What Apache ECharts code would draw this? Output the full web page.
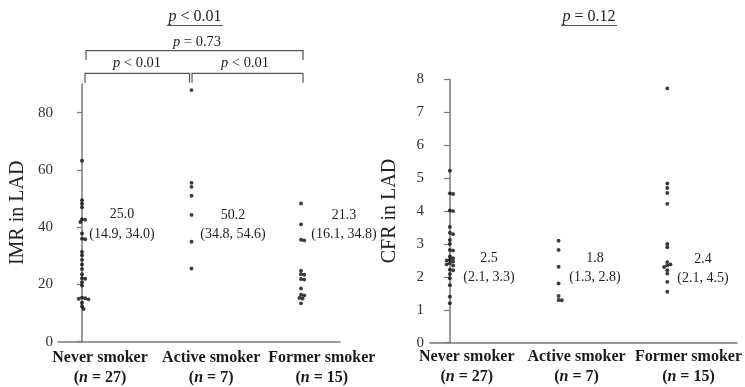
<!DOCTYPE html>
<html><head><meta charset="utf-8">
<script src="https://cdn.jsdelivr.net/npm/echarts@6/dist/echarts.min.js"></script>
<style>html,body{margin:0;padding:0;background:#fff}#c{width:745px;height:387px}</style>
</head><body><div id="c"></div>
<script>
// ---------- data ----------
const categories = ['Never smoker', 'Active smoker', 'Former smoker'];
const groupN = [27, 7, 15];

const imrNever  = [63.2, 49.4, 48.2, 47.0, 42.8, 42.6, 41.8, 37.8, 36.0, 35.8, 31.4, 30.2, 28.6, 27.0,
                   25.4, 23.6, 22.2, 22.0, 20.8, 19.6, 15.4, 15.2, 15.0, 14.8, 13.6, 12.4, 11.4];
const imrActive = [87.9, 55.5, 54.1, 51.0, 44.3, 34.9, 25.6];
const imrFormer = [48.3, 41.0, 35.6, 35.4, 24.8, 23.6, 23.4, 21.9, 21.7, 18.6, 16.4, 16.2, 15.3, 15.1, 13.4];

const cfrNever  = [5.23, 4.54, 4.52, 4.02, 4.00, 3.52, 3.34, 3.30, 3.12, 3.00, 2.82, 2.80, 2.62, 2.57,
                   2.52, 2.50, 2.47, 2.42, 2.38, 2.35, 2.22, 2.20, 2.09, 1.96, 1.75, 1.40, 1.20];
const cfrActive = [3.10, 2.82, 2.31, 1.80, 1.42, 1.30, 1.29];
const cfrFormer = [7.73, 4.84, 4.70, 4.55, 4.22, 3.00, 2.90, 2.45, 2.38, 2.35, 2.30, 2.20, 2.10, 1.85, 1.55];

const imrMedianText = ['25.0', '50.2', '21.3'];
const imrIqrText    = ['(14.9, 34.0)', '(34.8, 54.6)', '(16.1, 34.8)'];
const cfrMedianText = ['2.5', '1.8', '2.4'];
const cfrIqrText    = ['(2.1, 3.3)', '(1.3, 2.8)', '(2.1, 4.5)'];

const imrTicks = [0, 20, 40, 60, 80];
const cfrTicks = [0, 1, 2, 3, 4, 5, 6, 7, 8];

const overallP = ['p < 0.01', 'p = 0.12'];
const pairP = { neverFormer: 'p = 0.73', neverActive: 'p < 0.01', activeFormer: 'p < 0.01' };

// ---------- chart ----------
const SERIF = '"Liberation Serif", "DejaVu Serif", serif';
const axisGrey = '#7a7a7a';
const dotColor = '#0c0c0c';

const imrGroups = [imrNever, imrActive, imrFormer];
const cfrGroups = [cfrNever, cfrActive, cfrFormer];

function catLabel(v) {
  const i = Math.round(v);
  return '{b|' + categories[i] + '}\n{b|(}{i|n}{b| = ' + groupN[i] + ')}';
}
const catRich = {
  b: { fontFamily: SERIF, fontWeight: 'bold', fontSize: 16, color: '#1a1a1a', lineHeight: 20 },
  i: { fontFamily: SERIF, fontWeight: 'bold', fontStyle: 'italic', fontSize: 16, color: '#1a1a1a', lineHeight: 20 }
};

function xAxisDef(gridIndex, min, max, labelPos, margin) {
  return {
    type: 'value', gridIndex, min, max,
    axisLine: { lineStyle: { color: axisGrey, width: 1.5 } },
    axisTick: { show: false },
    splitLine: { show: false },
    axisLabel: { customValues: labelPos, formatter: catLabel, rich: catRich, margin, interval: 0 }
  };
}
function yAxisDef(gridIndex, max, ticks, name, margin, tickLen) {
  return {
    type: 'value', gridIndex, min: 0, max,
    name, nameLocation: 'middle', nameGap: 30,
    nameTextStyle: { fontFamily: SERIF, fontSize: 20, color: '#222' },
    axisLine: { show: true, lineStyle: { color: axisGrey, width: 1.5 } },
    axisTick: { show: true, customValues: ticks, length: tickLen, lineStyle: { color: axisGrey, width: 1.2 } },
    axisLabel: { customValues: ticks, fontFamily: SERIF, fontSize: 15, color: '#333', margin },
    splitLine: { show: false }
  };
}

function seriesFor(groups, gi, offsets) {
  return groups.map((vals, c) => ({
    type: 'scatter', xAxisIndex: gi, yAxisIndex: gi,
    symbol: 'circle', symbolSize: 3.9,
    itemStyle: { color: dotColor },
    silent: true,
    data: vals.map((v, k) => [c + (offsets ? offsets[c][k] : 0), v])
  }));
}

const chart = echarts.init(document.getElementById('c'), null, { renderer: 'canvas' });

function buildOption(imrOff, cfrOff) {
  return {
    animation: false,
    backgroundColor: '#fff',
    grid: [
      { left: 58, top: 84.1, width: 282, height: 257.6 },
      { left: 430, top: 79.5, width: 308, height: 263.2 }
    ],
    xAxis: [
      xAxisDef(0, -0.219, 2.356, [0.165, 1.18, 2.19], 6),
      xAxisDef(1, -0.183, 2.642, [0.155, 1.165, 2.195], 4)
    ],
    yAxis: [
      yAxisDef(0, 90, imrTicks, 'IMR in LAD', 5, 5),
      yAxisDef(1, 8, cfrTicks, 'CFR in LAD', 6, 6)
    ],
    series: seriesFor(imrGroups, 0, imrOff).concat(seriesFor(cfrGroups, 1, cfrOff)),
    graphic: buildGraphic()
  };
}

function txt(text, x, y, size, extra) {
  return Object.assign({
    type: 'text', x, y, silent: true,
    style: {
      text, fontFamily: SERIF, fontSize: size, fill: '#1e1e1e',
      textAlign: 'center', textVerticalAlign: 'middle',
      rich: { i: { fontFamily: SERIF, fontSize: size, fontStyle: 'italic', fill: '#1e1e1e' } }
    }
  }, extra || {});
}
function pRich(s) { return s.replace(/^p/, '{i|p}'); }
function line(pts) {
  return { type: 'polyline', silent: true, shape: { points: pts },
           style: { stroke: '#555', lineWidth: 1.2, fill: null } };
}

function buildGraphic() {
  const g = [];
  g.push(txt(pRich(overallP[0]), 195, 17, 16));
  g.push(line([[167, 25.5], [223, 25.5]]));
  g.push(txt(pRich(overallP[1]), 589, 17, 16));
  g.push(line([[561, 25.5], [617, 25.5]]));
  g.push(line([[86, 60], [86, 50.7], [303, 50.7], [303, 60]]));
  g.push(txt(pRich(pairP.neverFormer), 197, 42, 14.5));
  g.push(line([[85, 82.7], [85, 73.3], [189.5, 73.3], [189.5, 82.7]]));
  g.push(line([[192, 82.7], [192, 73.3], [303, 73.3], [303, 82.7]]));
  g.push(txt(pRich(pairP.neverActive), 137, 63.5, 14.5));
  g.push(txt(pRich(pairP.activeFormer), 245, 63.5, 14.5));
  const imrPos = [[122, 214, 234], [233, 215, 234], [344, 215, 234]];
  const cfrPos = [[489, 258, 277], [595, 258, 277], [703, 259, 278]];
  imrPos.forEach((p, i) => { g.push(txt(imrMedianText[i], p[0], p[1], 14)); g.push(txt(imrIqrText[i], p[0], p[2], 14)); });
  cfrPos.forEach((p, i) => { g.push(txt(cfrMedianText[i], p[0], p[1], 14)); g.push(txt(cfrIqrText[i], p[0], p[2], 14)); });
  return g;
}

chart.setOption(buildOption(null, null));

// beeswarm layout (horizontal offsets only, computed in pixel space)
function swarm(pys, D) {
  const idx = pys.map((p, i) => i).sort((a, b) => pys[a] - pys[b]);
  const placed = [];
  const off = new Array(pys.length).fill(0);
  for (const i of idx) {
    const y = pys[i];
    let best = 0;
    for (let k = 0; k < 60; k++) {
      const cand = k === 0 ? 0 : (k % 2 ? 1 : -1) * Math.ceil(k / 2) * D / 2;
      if (placed.every(p => Math.hypot(p[0] - cand, p[1] - y) >= D - 0.01)) { best = cand; break; }
    }
    off[i] = best;
    placed.push([best, y]);
  }
  return off;
}
function offsetsFor(groups, gi) {
  const p0 = chart.convertToPixel({ gridIndex: gi }, [0, 0]);
  const p1 = chart.convertToPixel({ gridIndex: gi }, [1, 0]);
  const pxPerUnit = p1[0] - p0[0];
  return groups.map(vals => {
    const pys = vals.map(v => chart.convertToPixel({ gridIndex: gi }, [0, v])[1]);
    return swarm(pys, 3.2).map(o => o / pxPerUnit);
  });
}
chart.setOption(buildOption(offsetsFor(imrGroups, 0), offsetsFor(cfrGroups, 1)));
</script>
</body></html>
